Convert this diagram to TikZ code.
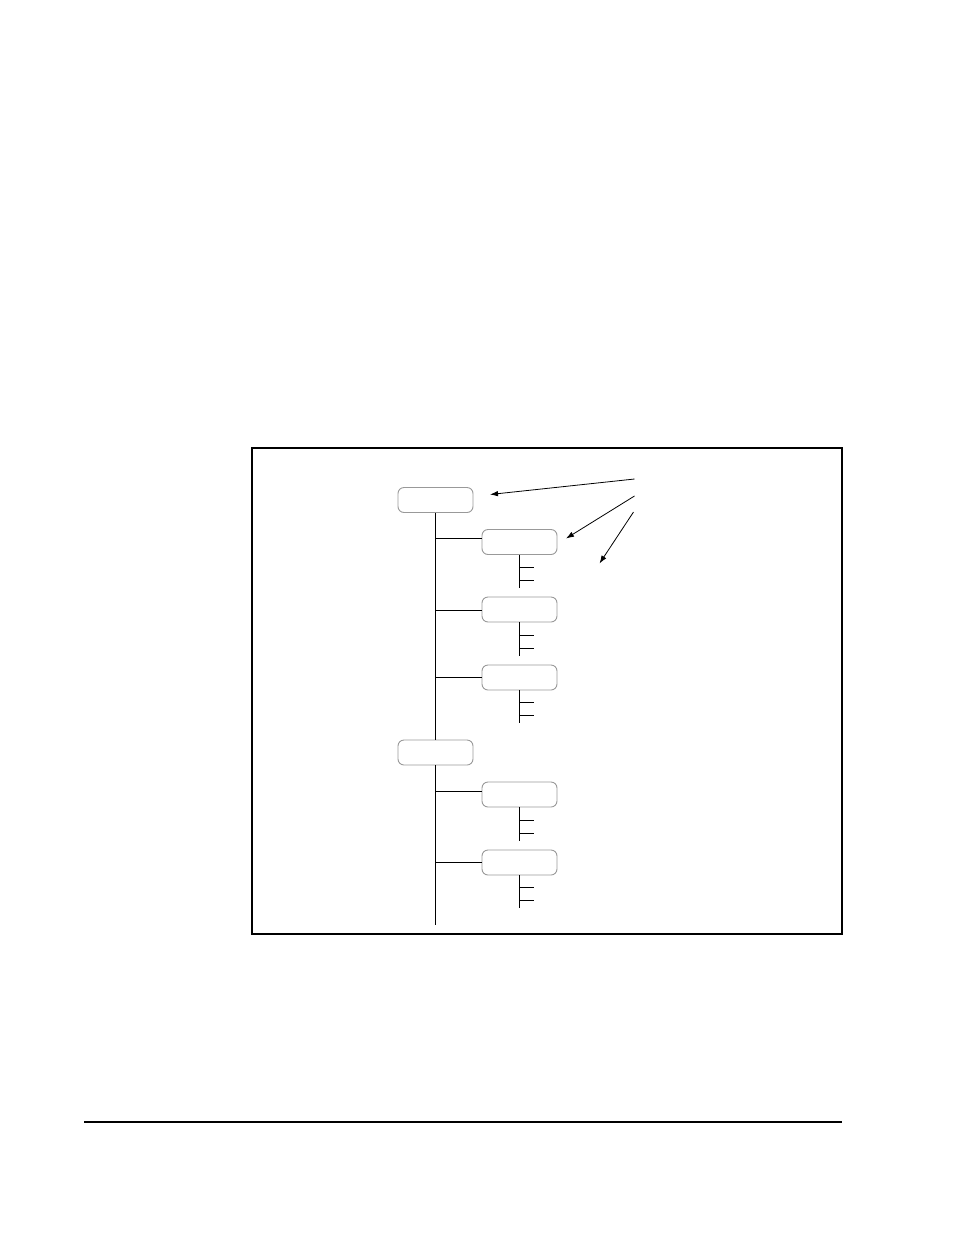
\documentclass[tikz,border=0pt]{standalone}
\usetikzlibrary{arrows.meta}
\begin{document}
\begin{tikzpicture}[x=1pt,y=-1pt,
  tbox/.style={draw=black!40,rounded corners=6pt,line width=0.9pt,minimum width=75pt,minimum height=25pt,inner sep=0pt,fill=white},
  conn/.style={line width=1pt,black},
  arr/.style={line width=0.8pt,-{Latex[length=8pt,width=5.5pt]}}]
\useasboundingbox (0,0) rectangle (954,1235);
% frame
\draw[line width=2pt] (252,448) rectangle (842,934);
% bottom rule
\draw[line width=1.3pt] (84,1122) -- (842,1122);
% top-level boxes
\node[tbox] (A) at (435.5,500) {};
\node[tbox] (B) at (435.5,752.5) {};
% child boxes
\node[tbox] (c1) at (519.5,542) {};
\node[tbox] (c2) at (519.5,609.5) {};
\node[tbox] (c3) at (519.5,677.5) {};
\node[tbox] (c4) at (519.5,794.5) {};
\node[tbox] (c5) at (519.5,862.5) {};
% trunk
\coordinate (tend) at (435.5,925);
\draw[conn] (A.south) -- (B.north);
\draw[conn] (B.south) -- (tend);
% horizontal connectors
\foreach \c/\yy in {c1/538,c2/610,c3/677,c4/791,c5/862}{
  \draw[conn] (435.5,\yy) -- (\c.west |- 0,\yy);
}
% sub stubs
\foreach \c/\ya/\yb/\ye in {c1/567/580/588,c2/635/648/656,c3/702/715/723,c4/820/833/841,c5/887/900/908}{
  \draw[conn] (\c.south) -- (\c.south |- 0,\ye);
  \draw[conn] (\c.south |- 0,\ya) -- ++(14,0);
  \draw[conn] (\c.south |- 0,\yb) -- ++(14,0);
}
% arrows
\coordinate (s1) at (634.5,479);
\coordinate (s2) at (634.5,496);
\coordinate (s3) at (633.5,512);
\coordinate (e1) at (490,494.5);
\coordinate (e2) at (566,538.5);
\coordinate (e3) at (599.5,563.5);
\draw[arr] (s1) -- (e1);
\draw[arr] (s2) -- (e2);
\draw[arr] (s3) -- (e3);
\end{tikzpicture}
\end{document}
